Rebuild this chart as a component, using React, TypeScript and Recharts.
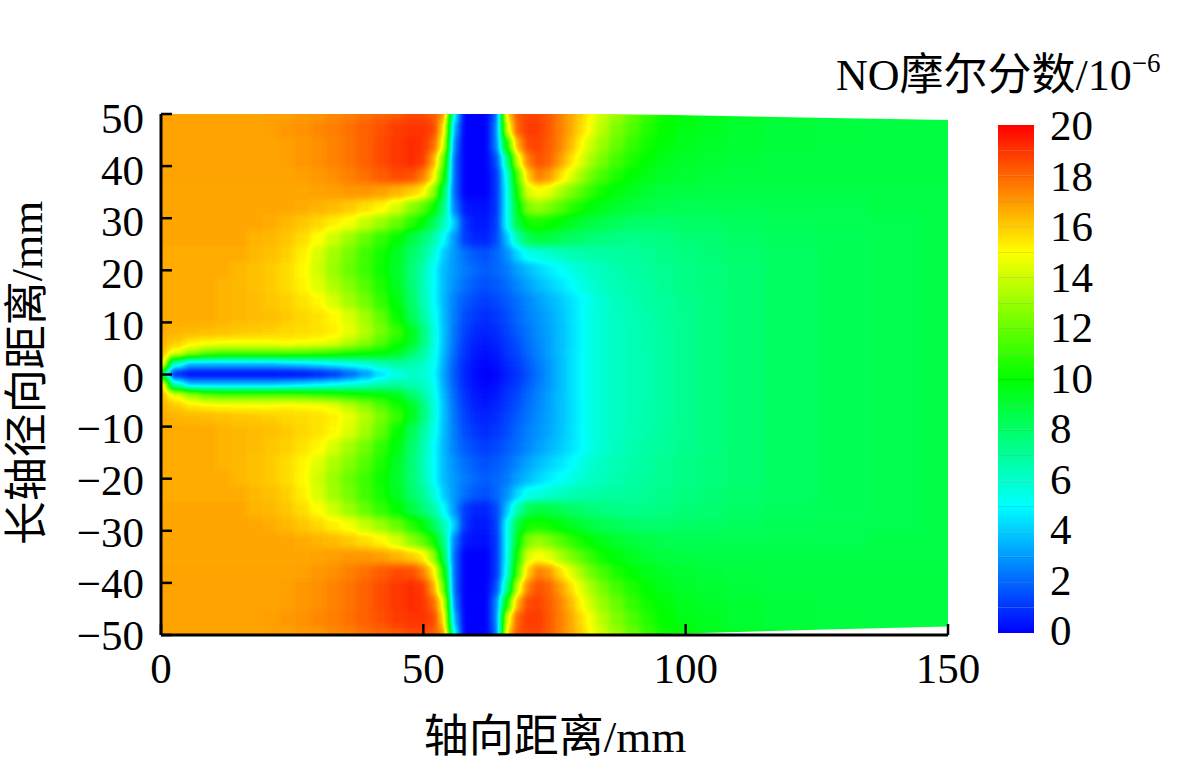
import React from "react";
import { ComposedChart, Scatter, Area, XAxis, YAxis, BarChart, Bar, Label } from "recharts";

const xTicks = [0, 50, 100, 150];
const yTicks = [50, 40, 30, 20, 10, 0, -10, -20, -30, -40, -50];
const barTicks = [0, 2, 4, 6, 8, 10, 12, 14, 16, 18, 20];

const xs = [0,3,6,9,12,15,18,21,24,27,30,33,36,39,42,45,48,50,52,54,56,58,60,62,64,66,68,70,72,74,76,78,80,82,84,87,90,93,96,100,105,110,120,130,140,150];
const ys = [50,47,44,41,38,35,32,29,26,23,20,17,14,11,8,6,4,2,0];

const y50 = [16.8,16.8,16.8,16.8,16.8,16.8,16.8,16.9,16.9,17.0,17.1,17.3,17.5,17.8,18.0,18.3,18.6,18.6,18.2,17.0,5,0,0,0,2,15.5,18.3,18.7,18.7,18.3,17.6,16.8,16,15,14,13,12,11,10.2,9.8,9.4,9.2,9,8.8,8.7,8.7];
const y47 = [16.8,16.8,16.8,16.8,16.8,16.8,16.8,16.9,17,17.1,17.3,17.5,17.8,18.1,18.4,18.8,19,19,18.7,15.5,3.5,0,0,0,2.5,14,18,18.8,18.8,18.3,17.6,16.8,15.8,14.8,13.6,12.5,11.5,10.6,10,9.6,9.3,9.1,8.9,8.8,8.7,8.7];
const y44 = [16.8,16.8,16.8,16.8,16.8,16.8,16.8,16.8,16.9,17,17.2,17.4,17.7,18.1,18.5,18.9,19.1,19,18,14.5,2.5,0,0,0,2.5,10.5,16.5,18.6,18.7,18.2,17.5,16.5,15.2,14,13,12,11,10.3,9.8,9.4,9.2,9,8.9,8.8,8.7,8.7];
const y41 = [16.8,16.8,16.8,16.8,16.8,16.8,16.8,16.8,16.9,17,17.2,17.4,17.7,18.1,18.5,18.9,19.1,18.8,16.8,12,2,0,0,0,1.5,7,14,17.5,18.4,18,17,15.8,14.5,13.3,12.3,11.3,10.5,9.9,9.5,9.2,9,8.9,8.8,8.7,8.7,8.7];
const y38 = [16.8,16.8,16.8,16.8,16.8,16.8,16.8,16.8,16.8,16.9,17,17.2,17.5,17.8,18.2,18.5,18.4,17.5,15.5,10.5,2,0,0,0,1,5.5,11.5,16,17.5,17,15.8,14.6,13.3,12.2,11.4,10.5,9.9,9.5,9.2,9,8.9,8.8,8.7,8.7,8.7,8.7];
const y35 = [16.7,16.7,16.7,16.7,16.7,16.7,16.7,16.7,16.7,16.7,16.8,16.9,17,17,16.9,16.5,16,15.3,13,8.5,2,0,0,0,1,5,10.5,14.3,15,14.5,13.5,12.6,11.8,11,10.3,9.7,9.3,9,8.8,8.7,8.6,8.6,8.6,8.6,8.6,8.6];
const y32 = [16.7,16.7,16.7,16.7,16.7,16.7,16.7,16.7,16.7,16.6,16.5,16.3,16,15.6,15.1,14.2,12.8,11.8,10.3,7.5,2.5,0.5,0.3,0.3,1,5,9.5,12.5,13,12.5,11.8,11,10.4,9.9,9.5,9.1,8.8,8.6,8.5,8.4,8.4,8.4,8.5,8.5,8.6,8.6];
const y29 = [16.7,16.7,16.7,16.7,16.7,16.7,16.7,16.6,16.4,16.1,15.8,15.3,14.8,13.9,13,12,10.8,9.8,8.3,6.5,4,1,0.5,0.5,1.2,5,8.8,10.3,10.5,10.2,9.8,9.4,9,8.7,8.5,8.2,8,7.9,7.9,8,8.1,8.2,8.3,8.4,8.5,8.6];
const y26 = [16.7,16.7,16.7,16.7,16.7,16.7,16.5,16.4,16.1,15.7,15,14,13,12,11,10,8.8,7.8,6.8,5,3,1.2,0.7,0.7,1.4,3.8,6.5,8.2,8.8,8.7,8.4,8.1,7.9,7.7,7.5,7.4,7.3,7.4,7.5,7.7,7.8,8,8.2,8.3,8.5,8.6];
const y23 = [16.6,16.6,16.6,16.6,16.6,16.6,16.4,16.2,15.9,15.3,14.3,13.2,12.3,11.2,10.4,9.3,8,7.1,5.8,4,3,2.2,1.7,1.6,2,2.8,4.2,5.3,5.6,5.9,6.2,6.4,6.6,6.7,6.8,6.9,7,7.1,7.3,7.5,7.7,7.9,8.1,8.3,8.5,8.6];
const y20 = [16.6,16.6,16.6,16.6,16.6,16.4,16.2,16,15.7,15.1,14.1,13,12.1,11.2,10.3,9.2,7.8,6.6,5.1,3.7,3,2.4,2,1.8,2,2.4,3.1,3.7,4.2,4.6,5,5.4,5.8,6.1,6.3,6.6,6.8,7,7.2,7.4,7.6,7.8,8.1,8.3,8.5,8.6];
const y17 = [16.6,16.6,16.6,16.6,16.5,16.4,16.2,16,15.7,15.2,14.4,13.4,12.6,11.6,10.6,9.3,7.8,6.5,5.1,3.7,2.8,2.2,1.8,1.6,1.8,2.1,2.7,3.2,3.7,4.1,4.5,4.9,5.4,5.9,6.2,6.5,6.7,6.9,7.1,7.4,7.6,7.8,8.1,8.3,8.5,8.6];
const y14 = [16.6,16.6,16.6,16.6,16.5,16.4,16.3,16.1,15.9,15.5,15.1,14.2,13.2,12.2,11,9.7,8,6.6,5.1,3.6,2.5,1.8,1.4,1.2,1.4,1.8,2.2,2.7,3.1,3.5,3.9,4.4,4.9,5.4,5.9,6.3,6.6,6.8,7,7.3,7.5,7.8,8.1,8.3,8.5,8.6];
const y11 = [16.6,16.6,16.6,16.6,16.5,16.4,16.3,16.2,16,15.8,15.5,15.1,14.3,13.2,11.9,10.2,8.4,7,5.5,3.7,2.4,1.5,1.1,0.9,1.1,1.5,2,2.5,2.9,3.3,3.8,4.3,4.9,5.5,5.9,6.2,6.5,6.7,7,7.2,7.5,7.8,8.1,8.3,8.5,8.6];
const y8 = [16.6,16.5,16.4,16.3,16.2,16.1,16,15.9,15.8,15.7,15.5,15.3,14.6,13.6,12.4,11.1,9.5,7.8,5.8,3.8,2.3,1.3,0.8,0.7,0.9,1.3,1.8,2.3,2.8,3.2,3.7,4.2,4.9,5.5,5.9,6.2,6.4,6.7,6.9,7.2,7.5,7.8,8.1,8.3,8.5,8.6];
const y6 = [16.5,16,15.4,15.1,15,15,15,15,15.1,15,14.9,14.5,13.6,12.7,11.6,10.4,9.4,7.7,5.8,3.8,2.2,1.1,0.6,0.5,0.7,1.1,1.6,2.2,2.7,3.1,3.7,4.2,4.9,5.5,5.9,6.2,6.4,6.7,6.9,7.2,7.5,7.8,8.1,8.3,8.5,8.6];
const y4 = [16.3,14.6,13,12,11.6,11.6,11.7,11.7,11.7,11.5,11.3,11,10.7,10.3,10,9.4,8,6.9,5.6,3.6,2,1,0.5,0.3,0.5,1,1.4,2,2.6,3.1,3.7,4.3,4.9,5.5,5.9,6.2,6.4,6.6,6.9,7.2,7.5,7.8,8.1,8.3,8.5,8.6];
const y2 = [15.5,6,3.8,3.8,3.8,3.8,3.8,3.8,4,4.3,4.6,5,5.4,5.9,6.5,6.8,6.6,6.2,5.3,3.4,1.8,0.8,0.3,0.1,0.3,0.8,1.2,1.8,2.4,3,3.6,4.3,4.9,5.5,5.9,6.2,6.4,6.6,6.9,7.2,7.5,7.8,8.1,8.3,8.5,8.6];
const y0 = [8,0.4,0,0,0,0,0,0,0,0.1,0.3,0.8,1.7,2.8,4.2,5.3,6,5.8,5.1,3.2,1.7,0.7,0.2,0,0.1,0.6,1,1.6,2.3,3,3.6,4.3,4.9,5.5,5.9,6.2,6.4,6.6,6.9,7.2,7.5,7.8,8.1,8.3,8.5,8.6];

const rows = [y50,y47,y44,y41,y38,y35,y32,y29,y26,y23,y20,y17,y14,y11,y8,y6,y4,y2,y0];

// white wedges outside the combustor wall
const wallX = [85, 100, 125, 150];
const wallTop = [50, 49.75, 49.3, 48.85];
const wallBottom = [-50, -49.7, -49, -48.35];

const LEFT = 161, RIGHT = 948, TOP = 114, BOTTOM = 635;
const PX_X = (RIGHT - LEFT) / 150;
const PX_Y = (BOTTOM - TOP) / 100;
const EDGE = 8; // mm drawn past the domain, cut off by the clip

const allYs = [...ys, ...ys.slice(0, -1).reverse().map((y) => -y)];
const allRows = [...rows, ...rows.slice(0, -1).reverse()];
const cells: any[] = [];
allYs.forEach((y, j) => {
  xs.forEach((x, i) => {
    const l = i === 0 ? EDGE : (x - xs[i - 1]) / 2;
    const r = i === xs.length - 1 ? EDGE : (xs[i + 1] - x) / 2;
    const u = j === 0 ? EDGE : (allYs[j - 1] - y) / 2;
    const d = j === allYs.length - 1 ? EDGE : (y - allYs[j + 1]) / 2;
    cells.push({ x, y, v: allRows[j][i], l, r, u, d });
  });
});
const wallTopData = wallX.map((x, i) => ({ x, band: [wallTop[i], 50] }));
const wallBottomData = wallX.map((x, i) => ({ x, band: [-50, wallBottom[i]] }));

const FONT = '"Liberation Serif", "Noto Sans CJK SC", serif';
const FS = 43;

function Cell(p: any) {
  const c = p.payload;
  const g = Math.round((c.v / 20) * 255);
  return (
    <rect
      x={p.cx - c.l * PX_X - 0.5}
      y={p.cy - c.u * PX_Y - 0.5}
      width={(c.l + c.r) * PX_X + 1}
      height={(c.u + c.d) * PX_Y + 1}
      fill={`rgb(${g},${g},${g})`}
      stroke="none"
    />
  );
}

const minus = (v: number) => (v < 0 ? `\u2212${-v}` : `${v}`);

function XTick(p: any) {
  return (
    <g>
      <line x1={p.x} x2={p.x} y1={BOTTOM} y2={BOTTOM - 11} stroke="#000" strokeWidth={2.5} />
      <text x={p.x} y={683} textAnchor="middle" fontFamily={FONT} fontSize={FS} fill="#000">{p.payload.value}</text>
    </g>
  );
}
function YTick(p: any) {
  const v = p.payload.value;
  return (
    <g>
      <line x1={LEFT} x2={LEFT + 11} y1={p.y} y2={p.y} stroke="#000" strokeWidth={2.5} />
      <text x={144} y={133 + (50 - v) * 5.17} textAnchor="end" fontFamily={FONT} fontSize={FS} fill="#000">{minus(v)}</text>
    </g>
  );
}
function BarTick(p: any) {
  const v = p.payload.value;
  return (
    <text x={1050} y={645 - v * 25.25} textAnchor="start" fontFamily={FONT} fontSize={FS} fill="#000">{v}</text>
  );
}

function rainbow(v: number) {
  const t = v / 5;
  const seg = (a: number[]) => {
    const i = Math.min(3, Math.floor(t));
    return Math.round((a[i] + (a[i + 1] - a[i]) * (t - i)) * 255);
  };
  return `rgb(${seg([0, 0, 0, 1, 1])},${seg([0, 1, 1, 1, 0])},${seg([1, 1, 0, 0, 0])})`;
}

const levels = Array.from({ length: 20 }, (_, i) => i);
const barRow = [Object.fromEntries(levels.map((i) => [`l${i}`, 1]))];

function Level(p: any) {
  const i = p.level;
  return (
    <g>
      <rect x={p.x} y={p.y} width={p.width} height={p.height} fill={`url(#lv${i})`} />
      {i < 19 ? <line x1={p.x} x2={p.x + p.width} y1={p.y} y2={p.y} stroke="rgba(0,0,0,0.2)" strokeWidth={1} /> : null}
    </g>
  );
}

const layer: React.CSSProperties = { position: "absolute", left: 0, top: 0 };

export default function App() {
  return (
    <div style={{ position: "absolute", left: 0, top: 0, width: 1181, height: 767, background: "#fff", overflow: "hidden" }}>
      <style>{`.heat{filter:url(#heatMap);clip-path:url(#plotClip);}`}</style>
      <svg width={0} height={0} style={{ position: "absolute" }}>
        <defs>
          <filter id="heatMap" x="-5%" y="-5%" width="110%" height="110%" colorInterpolationFilters="sRGB">
            <feGaussianBlur stdDeviation="3.6" />
            <feComponentTransfer>
              <feFuncR type="table" tableValues="0 0 0 1 1" />
              <feFuncG type="table" tableValues="0 1 1 1 0" />
              <feFuncB type="table" tableValues="1 1 0 0 0" />
            </feComponentTransfer>
          </filter>
          <clipPath id="plotClip" clipPathUnits="userSpaceOnUse">
            <rect x={LEFT} y={TOP} width={RIGHT - LEFT} height={BOTTOM - TOP} />
          </clipPath>
        </defs>
      </svg>

      <ComposedChart
        width={1181}
        height={767}
        margin={{ left: LEFT, right: 1181 - RIGHT, top: TOP, bottom: 767 - BOTTOM }}
        style={layer}
      >
        <XAxis hide type="number" dataKey="x" domain={[0, 150]} allowDataOverflow />
        <YAxis hide type="number" dataKey="y" domain={[-50, 50]} allowDataOverflow />
        <Scatter data={cells} dataKey="y" className="heat" shape={Cell} isAnimationActive={false} />
      </ComposedChart>

      <ComposedChart
        width={1181}
        height={767}
        margin={{ left: LEFT - 100, right: 1181 - RIGHT, top: TOP, bottom: 767 - BOTTOM - 100 }}
        style={layer}
      >
        <Area data={wallTopData} dataKey="band" stroke="none" fill="#fff" fillOpacity={1} isAnimationActive={false} dot={false} activeDot={false} />
        <Area data={wallBottomData} dataKey="band" stroke="none" fill="#fff" fillOpacity={1} isAnimationActive={false} dot={false} activeDot={false} />
        <XAxis
          type="number"
          dataKey="x"
          domain={[0, 150]}
          ticks={xTicks}
          height={100}
          allowDataOverflow
          axisLine={{ stroke: "#000", strokeWidth: 3 }}
          tickLine={false}
          tick={XTick}
          interval={0}
        >
          <Label
            content={() => (
              <text x={555} y={752} textAnchor="middle" fontFamily={FONT} fontSize={45} fill="#000">轴向距离/mm</text>
            )}
          />
        </XAxis>
        <YAxis
          type="number"
          domain={[-50, 50]}
          ticks={yTicks}
          width={100}
          allowDataOverflow
          axisLine={{ stroke: "#000", strokeWidth: 3 }}
          tickLine={false}
          tick={YTick}
          interval={0}
        >
          <Label
            content={() => (
              <text x={42} y={373} transform="rotate(-90 42 373)" textAnchor="middle" fontFamily={FONT} fontSize={44} fill="#000">长轴径向距离/mm</text>
            )}
          />
        </YAxis>
        <text x={836} y={90} fontFamily={FONT} fontSize={44} fill="#000">
          NO摩尔分数/10<tspan dy={-18} fontSize={27}>−6</tspan>
        </text>
      </ComposedChart>

      <BarChart
        width={1181}
        height={767}
        data={barRow}
        barCategoryGap={0}
        margin={{ left: 998, right: 1181 - 1034 - 100, top: 125, bottom: 767 - 633 }}
        style={{ ...layer, pointerEvents: "none" }}
      >
        <defs>
          {levels.map((i) => (
            <linearGradient key={i} id={`lv${i}`} x1="0" y1="1" x2="0" y2="0">
              <stop offset="0" stopColor={rainbow(i)} />
              <stop offset="1" stopColor={rainbow(i + 1)} />
            </linearGradient>
          ))}
        </defs>
        <XAxis hide />
        <YAxis
          orientation="right"
          type="number"
          domain={[0, 20]}
          ticks={barTicks}
          width={100}
          axisLine={false}
          tickLine={false}
          tick={BarTick}
          interval={0}
        />
        {levels.map((i) => (
          <Bar
            key={i}
            dataKey={`l${i}`}
            stackId="scale"
            isAnimationActive={false}
            shape={(p: any) => <Level {...p} level={i} />}
          />
        ))}
      </BarChart>
    </div>
  );
}
